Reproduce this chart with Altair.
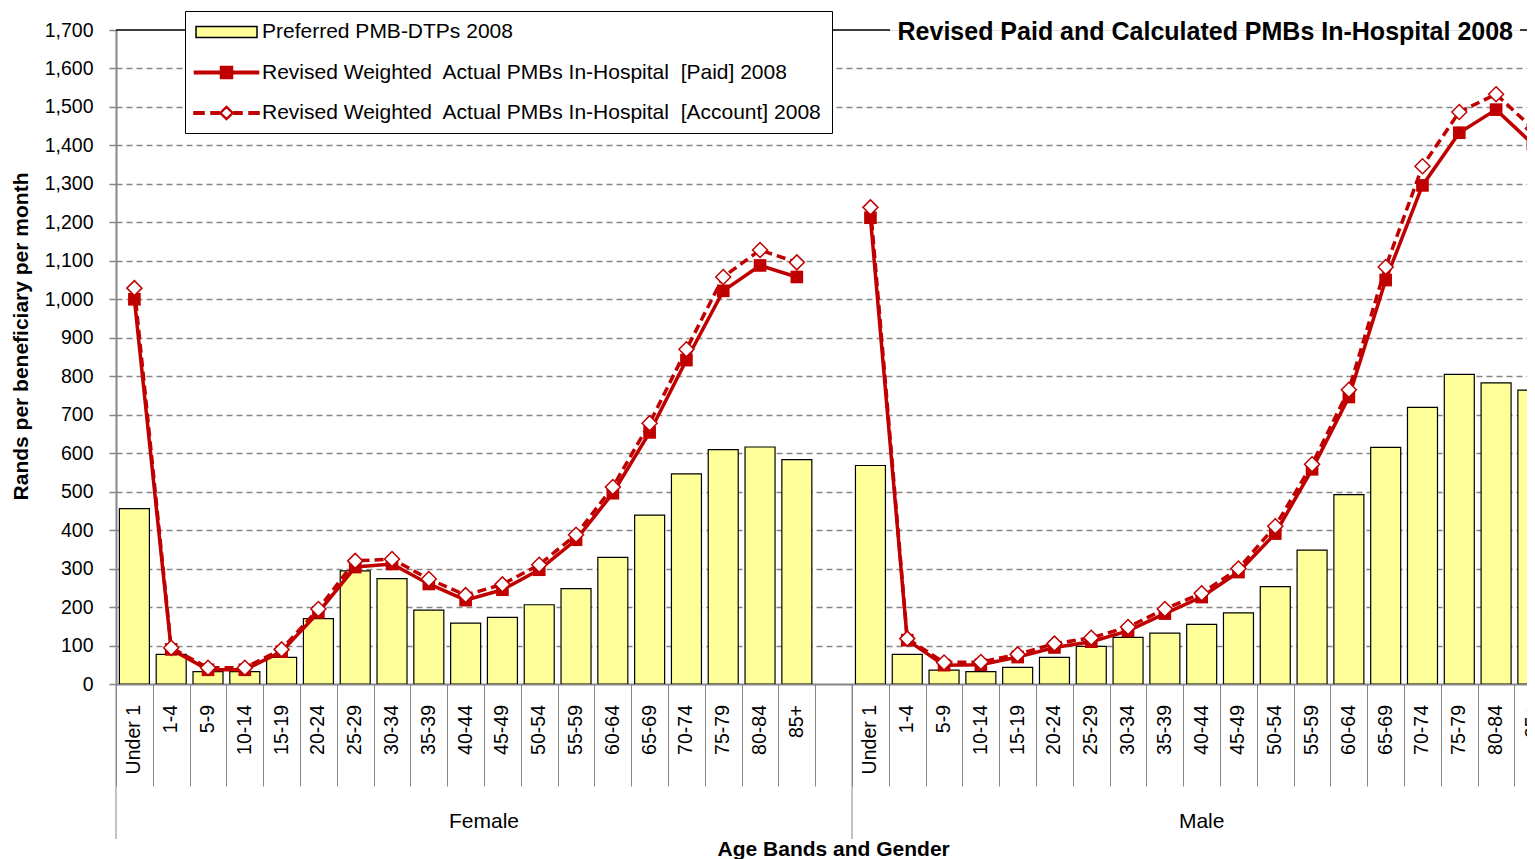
import altair as alt
import pandas as pd

FONT = "Liberation Sans"
RED = "#C00000"
YELLOW = "#FFFF99"
GRAY = "#868686"

# ---------------- data ----------------
ages = ["Under 1", "1-4", "5-9", "10-14", "15-19", "20-24", "25-29", "30-34",
        "35-39", "40-44", "45-49", "50-54", "55-59", "60-64", "65-69", "70-74",
        "75-79", "80-84", "85+"]
genders = ["Female", "Male"]

female_dtp = [456, 77, 32, 32, 69, 170, 294, 274, 192, 158, 173, 206, 248, 329, 439, 546, 609, 616, 583]
female_paid = [1000, 90, 37, 37, 84, 186, 304, 312, 260, 218, 245, 297, 375, 496, 654, 842, 1022, 1088, 1058]
female_account = [1029, 94, 42, 42, 90, 195, 320, 325, 273, 231, 259, 310, 388, 512, 678, 870, 1058, 1128, 1096]

male_dtp = [568, 77, 36, 32, 43, 69, 98, 121, 132, 155, 185, 253, 348, 492, 615, 719, 805, 783, 764]
male_paid = [1212, 114, 49, 50, 70, 95, 110, 138, 183, 226, 291, 391, 558, 746, 1050, 1296, 1433, 1493, 1403]
male_account = [1239, 118, 56, 57, 77, 105, 120, 148, 195, 236, 300, 410, 571, 765, 1084, 1346, 1487, 1533, 1444]

series_names = [
    "Preferred PMB-DTPs 2008",
    "Revised Weighted\u00a0 Actual PMBs In-Hospital\u00a0 [Paid] 2008",
    "Revised Weighted\u00a0 Actual PMBs In-Hospital\u00a0 [Account] 2008",
]
chart_title = "Revised Paid and Calculated PMBs In-Hospital 2008"
y_title = "Rands per beneficiary per month"
x_title = "Age Bands and Gender"
y_ticks = list(range(0, 1800, 100))

# ---------------- tables ----------------
n_age = len(ages)
group_len = [n_age + 1, n_age]          # Female group carries one empty slot
group_start = [0, n_age + 1]
n_total = sum(group_len)

rows = []
for g, start, d, p, a in zip(genders, group_start,
                             [female_dtp, male_dtp], [female_paid, male_paid],
                             [female_account, male_account]):
    for i, age in enumerate(ages):
        rows.append({"gender": g, "age": age, "pos": start + i + 0.5,
                     "dtp": d[i], "paid": p[i], "account": a[i]})
df = pd.DataFrame(rows)

groups = pd.DataFrame({"gender": genders, "start": group_start, "len": group_len})
groups["mid"] = groups["start"] + groups["len"] / 2
sep_df = pd.DataFrame({"pos": group_start})
grp_lbl = pd.DataFrame({"pos": groups["mid"], "gender": genders})
xt_df = pd.DataFrame({"pos": [n_total / 2], "t": [x_title]})
bound_vals = list(range(0, n_total))
title_df = pd.DataFrame({"t": [chart_title]})
legend_df = pd.DataFrame({"series": series_names})

# ---------------- layout ----------------
W, H = 1411, 654
XMAX = 38.34

x_enc = alt.X("pos:Q",
              scale=alt.Scale(domain=[0, XMAX], nice=False, zero=False, padding=0),
              axis=alt.Axis(values=bound_vals, labels=False, ticks=True, tickSize=102,
                            tickColor=GRAY, tickWidth=1, domainColor=GRAY, domainWidth=2,
                            grid=False, title=None))
y_scale = alt.Scale(domain=[0, 1700], nice=False, zero=True)
y_axis = alt.Axis(values=y_ticks, format=",d", labelFont=FONT, labelFontSize=19.5,
                  labelColor="black", labelPadding=16, tickSize=7, tickColor=GRAY,
                  tickWidth=1.5, domainColor=GRAY, domainWidth=2,
                  grid=True, gridColor=GRAY, gridWidth=1.4, gridDash=[6, 4],
                  gridOpacity={"condition": {"test": "datum.value <= 0 || datum.value >= 1700",
                                             "value": 0}, "value": 1},
                  title=y_title, titleFont=FONT, titleFontSize=21, titleFontWeight="bold",
                  titleColor="black", titleAngle=270, titleX=-95, titleY=306,
                  titleAlign="center", titleBaseline="middle")

base = alt.Chart(df)

bars = base.mark_bar(fill=YELLOW, stroke="black", strokeWidth=1.2, size=30, clip=True).encode(
    x=x_enc, y=alt.Y("dtp:Q", scale=y_scale, axis=y_axis))

paid_line = base.mark_line(color=RED, strokeWidth=3.5, clip=True).encode(
    x=x_enc, y=alt.Y("paid:Q", scale=y_scale, axis=y_axis), detail="gender:N")
paid_pts = base.mark_point(shape="square", filled=True, fill=RED, size=160, opacity=1,
                           clip=True).encode(
    x=x_enc, y=alt.Y("paid:Q", scale=y_scale, axis=y_axis))

acct_line = base.mark_line(color=RED, strokeWidth=3.5, strokeDash=[9, 5], clip=True).encode(
    x=x_enc, y=alt.Y("account:Q", scale=y_scale, axis=y_axis), detail="gender:N")
acct_pts = base.mark_point(shape="diamond", filled=True, fill="white", stroke=RED,
                           strokeWidth=1.5, size=225, opacity=1, clip=True).encode(
    x=x_enc, y=alt.Y("account:Q", scale=y_scale, axis=y_axis))

age_lbls = base.mark_text(angle=270, align="right", baseline="middle", font=FONT,
                          fontSize=19.5, color="black").encode(
    x=x_enc, y=alt.value(675), text="age:N")

seps = alt.Chart(sep_df).mark_rule(color=GRAY, strokeWidth=1).encode(
    x=x_enc, y=alt.value(H), y2=alt.value(809))

gender_lbls = alt.Chart(grp_lbl).mark_text(align="center", baseline="middle", font=FONT,
                                           fontSize=21, color="black").encode(
    x=x_enc, y=alt.value(792), text="gender:N")

x_title_txt = alt.Chart(xt_df).mark_text(align="center", baseline="middle", font=FONT,
                                         fontSize=21, fontWeight="bold", color="black").encode(
    x=x_enc, y=alt.value(820), text="t:N")

top_rule1 = alt.Chart(title_df).mark_rule(color="black", strokeWidth=1.5).encode(
    x=alt.value(0), x2=alt.value(774), y=alt.value(0))
top_rule2 = alt.Chart(title_df).mark_rule(color="black", strokeWidth=1.5).encode(
    x=alt.value(1404), x2=alt.value(W), y=alt.value(0))
title_txt = alt.Chart(title_df).mark_text(align="right", baseline="middle", font=FONT,
                                          fontSize=25, fontWeight="bold", color="black").encode(
    x=alt.value(1397), y=alt.value(2), text="t:N")

# legend built from its own (empty) layer
leg_paths = [
    "M-3.05,-0.55H3.05V0.55H-3.05Z",
    "M-3.2,-0.13H3.2V0.13H-3.2Z M-0.6,-0.6H0.6V0.6H-0.6Z",
    "M-3.25,-0.13H-2.25V0.13H-3.25Z M-1.55,-0.13H-0.75V0.13H-1.55Z "
    "M0.75,-0.13H1.55V0.13H0.75Z M2.25,-0.13H3.25V0.13H2.25Z "
    "M0,-0.68L0.68,0L0,0.68L-0.68,0Z M0,-0.56L-0.56,0L0,0.56L0.56,0Z",
]
leg = alt.Legend(title=None, orient="none", legendX=69, legendY=-19, direction="vertical",
                 fillColor="white", strokeColor="black", padding=10,
                 symbolSize=400, symbolStrokeWidth=1.5, symbolOffset=20.5, labelOffset=24.5,
                 labelFont=FONT, labelFontSize=21, labelColor="black", labelLimit=900,
                 rowPadding=19.5)
legend_layer = alt.Chart(legend_df).transform_filter("false").mark_point(
    filled=True, opacity=1).encode(
    fill=alt.Fill("series:N", scale=alt.Scale(domain=series_names, range=[YELLOW, RED, RED]),
                  legend=leg),
    stroke=alt.Stroke("series:N", scale=alt.Scale(domain=series_names,
                                                  range=["black", RED, RED]), legend=leg),
    shape=alt.Shape("series:N", scale=alt.Scale(domain=series_names, range=leg_paths),
                    legend=leg),
)

chart = alt.layer(
    bars, paid_line, paid_pts, acct_line, acct_pts,
    age_lbls, seps, gender_lbls, x_title_txt,
    top_rule1, top_rule2, title_txt, legend_layer,
).properties(
    width=W, height=H,
    padding={"left": 108, "top": 22, "right": 0, "bottom": 175},
    autosize=alt.AutoSizeParams(type="none"),
    background="white",
).configure_view(strokeWidth=0).configure(font=FONT)

chart.save("out.html", embed_options={"renderer": "svg", "actions": False})
